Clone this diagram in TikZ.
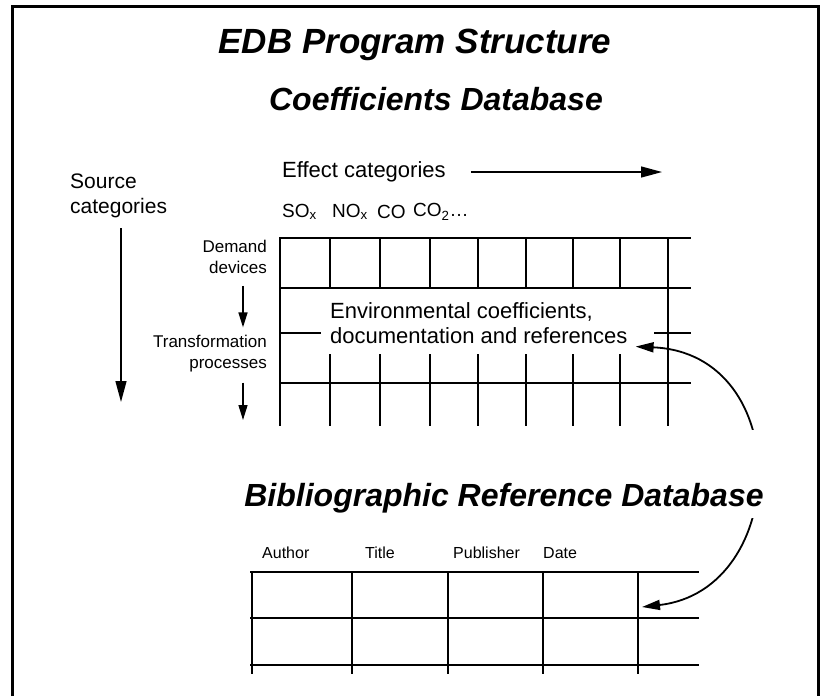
\documentclass[tikz,border=0pt]{standalone}
\usepackage{fontspec}
\setmainfont{Liberation Sans}
\usetikzlibrary{arrows.meta}
\tikzset{
  bigtitle/.style={font=\fontsize{35}{40}\selectfont\bfseries\itshape, inner sep=0pt},
  dbtitle/.style={font=\fontsize{32}{38}\selectfont\bfseries\itshape, inner sep=0pt},
  lbl/.style={font=\fontsize{22}{25}\selectfont, inner sep=0pt, align=left},
  sidelbl/.style={font=\fontsize{17}{21}\selectfont, inner sep=0pt, align=right, anchor=east},
  colhead/.style={font=\fontsize{#1}{#1}\selectfont, inner sep=0pt, anchor=west},
  gridline/.style={line width=2.6pt, line cap=rect},
  frameline/.style={line width=3pt},
  catarrow/.style={line width=1.4pt, -{Triangle[length=21pt,width=11pt]}},
  stepdown/.style={line width=1.4pt, -{Triangle[length=15pt,width=9pt]}},
  reflink/.style={line width=1.8pt, {Triangle[length=18pt,width=10pt]}-{Triangle[length=18pt,width=10pt]}},
}

\begin{document}
\begin{tikzpicture}[x=1pt, y=-1pt]
  \useasboundingbox (0,0) rectangle (821,696);
  \draw[frameline] (12,696) |- (818,6) -- (818,696);

  \node[bigtitle] (title)  at (415,45) {EDB Program Structure};
  \node[dbtitle]  (coefdb) at (436,99) {Coefficients Database};

  % --- category axes
  \node[lbl, anchor=west] (effect) at (282,172) {Effect categories};
  \coordinate (effectend) at (662,172);
  \draw[catarrow] ([xshift=25pt]effect.east) -- (effectend);

  \node[lbl, font=\fontsize{21}{25}\selectfont, anchor=west] (source) at (70,196) {Source\\categories};
  \coordinate (srctop) at (121,228);
  \coordinate (srcend) at (121,402);
  \draw[catarrow] (srctop) -- (srcend);

  % --- effect columns
  \node[colhead=19] (sox)   at (282,212) {SO\textsubscript{x}};
  \node[colhead=19] (nox)   at (332,212) {NO\textsubscript{x}};
  \node[colhead=19] (co)    at (377,212) {CO};
  \node[colhead=19] (cotwo) at (413,212) {CO\textsubscript{2}\dots};

  % --- source rows
  \coordinate (stepx) at (243,0);
  \node[sidelbl] (demand) at (267,257) {Demand\\devices};
  \node[sidelbl] (transf) at (267,354) {Transformation\\processes};
  \coordinate (stepend) at (243,420);
  \draw[stepdown, shorten <=12pt, shorten >=8pt] (demand.south -| stepx) -- (transf.north -| stepx);
  \draw[stepdown, shorten <=10pt] (transf.south -| stepx) -- (stepend);

  % --- coefficients grid
  \foreach \x in {330,380,430,478,526,573,620}{
    \draw[gridline] (\x,238) -- (\x,288);
    \draw[gridline] (\x,355) -- (\x,425);
  }
  \foreach \x in {280,668}{ \draw[gridline] (\x,238) -- (\x,425); }
  \foreach \y in {238,288,383}{ \draw[gridline] (280,\y) -- (690,\y); }
  \draw[gridline] (280,333) -- (320,333);
  \draw[gridline] (655,333) -- (690,333);
  \node[lbl, anchor=north west] (envtext) at (330,302) {Environmental coefficients,\\documentation and references};

  % --- bibliographic table
  \node[colhead=16] (author)    at (262,553) {Author};
  \node[colhead=16] (booktitle) at (365,553) {Title};
  \node[colhead=16] (publisher) at (453,553) {Publisher};
  \node[colhead=16] (date)      at (543,553) {Date};
  \foreach \y in {572,618,665}{ \draw[gridline] (251,\y) -- (698,\y); }
  \foreach \x in {252,352,448,543,638}{ \draw[gridline] (\x,572) -- (\x,673); }
  \coordinate (bibentry) at (642,607);

  % --- link between the two databases
  \draw[reflink] ([xshift=8pt,yshift=-3pt]envtext.south east) .. controls +(160,7) and +(148,-17) .. (bibentry);
  \node[dbtitle, fill=white, anchor=base, text height=76pt, text depth=12pt] (bibdb) at (504,506) {Bibliographic Reference Database};
\end{tikzpicture}
\end{document}
